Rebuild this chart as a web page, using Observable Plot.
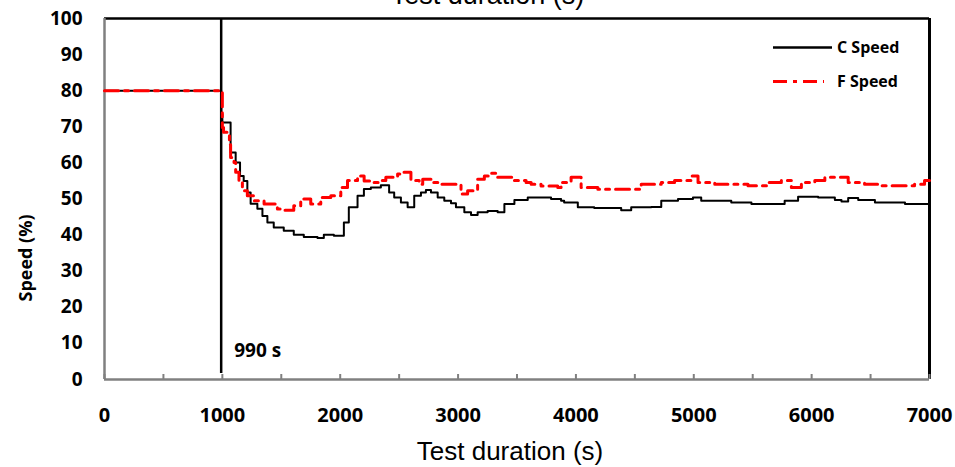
<!DOCTYPE html>
<html>
<head>
<meta charset="utf-8">
<script src="https://cdn.jsdelivr.net/npm/d3@7"></script>
<script src="https://cdn.jsdelivr.net/npm/@observablehq/plot@0.6"></script>
<style>
  body { margin: 0; background: #fff; }
  #chart svg { display: block; }
</style>
</head>
<body>
<div id="chart"></div>
<script>
// ---- data ----
const seriesNames = ["C Speed", "F Speed"];
const xLabel = "Test duration (s)";
const yLabel = "Speed (%)";
const eventTime = 990;
const eventLabel = "990 s";

const xTicks = [0, 1000, 2000, 3000, 4000, 5000, 6000, 7000];
const xMinorTicks = [0, 500, 1000, 1500, 2000, 2500, 3000, 3500, 4000, 4500, 5000, 5500, 6000, 6500, 7000];
const yTicks = [0, 10, 20, 30, 40, 50, 60, 70, 80, 90, 100];

const cTime = [0, 990, 1000, 1070, 1113, 1150, 1181, 1212, 1240, 1297, 1340, 1382, 1436, 1521, 1606, 1691, 1807, 1861, 1946, 2031, 2073, 2147, 2201, 2260, 2345, 2415, 2458, 2515, 2572, 2628, 2685, 2727, 2770, 2827, 2883, 2940, 2982, 3053, 3110, 3166, 3251, 3336, 3393, 3478, 3591, 3789, 3874, 3900, 4016, 4155, 4384, 4469, 4639, 4724, 4866, 4993, 5063, 5318, 5489, 5771, 5885, 6055, 6197, 6253, 6310, 6395, 6537, 6792, 7000];
const cSpeed = [80, 73.5, 71.2, 62.9, 60.1, 56.4, 55.0, 51.8, 48.7, 47.3, 45.3, 43.5, 42.1, 41.2, 40.1, 39.5, 39.2, 40.1, 39.8, 43.5, 47.7, 50.9, 52.8, 53.2, 53.8, 51.8, 50.4, 49.0, 47.7, 50.9, 51.8, 52.5, 51.8, 50.4, 49.5, 48.8, 47.7, 46.3, 45.6, 46.3, 46.7, 46.3, 48.6, 49.7, 50.4, 50.0, 49.5, 49.0, 47.7, 47.5, 46.9, 47.7, 47.8, 49.5, 50.0, 50.4, 49.5, 49.0, 48.6, 49.5, 50.6, 50.4, 49.7, 49.3, 50.3, 49.7, 49.0, 48.6, 48.6];

const fTime = [0, 1000, 1010, 1060, 1070, 1099, 1113, 1141, 1170, 1212, 1269, 1354, 1467, 1521, 1606, 1665, 1750, 1835, 1920, 2005, 2062, 2147, 2203, 2260, 2345, 2387, 2487, 2515, 2600, 2670, 2700, 2770, 2855, 3025, 3081, 3166, 3223, 3279, 3336, 3478, 3577, 3620, 3704, 3846, 3874, 3959, 4044, 4186, 4554, 4724, 4837, 4979, 5036, 5178, 5460, 5630, 5743, 5828, 5913, 6027, 6112, 6310, 6449, 6593, 6873, 6958, 7000];
const fSpeed = [80, 69.8, 68.5, 65.0, 61.5, 60.1, 57.4, 54.6, 52.3, 50.9, 49.5, 48.6, 47.2, 46.9, 48.1, 50.0, 48.6, 50.4, 50.9, 53.2, 55.1, 56.4, 55.0, 54.6, 55.1, 56.0, 56.9, 57.4, 55.1, 54.1, 55.5, 54.6, 54.1, 51.4, 52.3, 55.5, 56.4, 57.1, 56.0, 55.1, 54.6, 54.1, 53.6, 53.2, 54.6, 56.0, 53.2, 52.7, 54.1, 54.6, 55.1, 56.4, 54.6, 54.1, 53.7, 54.6, 55.1, 53.2, 54.6, 55.1, 56.0, 54.6, 54.1, 53.7, 54.1, 55.1, 55.1];

// ---- build tables ----
const cData = cTime.map((t, i) => ({t, v: cSpeed[i]}));
const fData = fTime.map((t, i) => ({t, v: fSpeed[i]}));

const BOLD = "'Open Sans', sans-serif";
const ARIAL = "'Liberation Sans', Arial, sans-serif";
const redDash = "14,6,4,6";

const chart = Plot.plot({
  width: 955,
  height: 467,
  marginLeft: 104,
  marginRight: 26,
  marginTop: 18,
  marginBottom: 88,
  x: {domain: [0, 7000]},
  y: {domain: [0, 100]},
  style: {fontFamily: BOLD, background: "white", color: "#000", overflow: "visible"},
  marks: [
    Plot.axisY({ticks: yTicks, tickSize: 0, tickPadding: 22, tickFormat: d => String(d), fontSize: 19, fontWeight: 700, fontFamily: BOLD, label: null, fill: "#000"}),
    Plot.axisX({ticks: xTicks, tickSize: 0, tickPadding: 28, tickFormat: d => String(d), fontSize: 20, fontWeight: 700, fontFamily: BOLD, label: null, fill: "#000"}),
    // frame
    Plot.ruleY([100], {stroke: "#000", strokeWidth: 2.5}),
    Plot.ruleX([7000], {stroke: "#000", strokeWidth: 3}),
    Plot.ruleX(xMinorTicks, {y1: 0, y2: 0, insetBottom: 5, stroke: "#808080", strokeWidth: 2}),
    Plot.ruleX([0], {stroke: "#808080", strokeWidth: 2.5}),
    Plot.ruleY([0], {stroke: "#808080", strokeWidth: 2.5}),
    // event marker
    Plot.ruleX([eventTime], {stroke: "#000", strokeWidth: 2.5, insetBottom: 6}),
    Plot.text([eventLabel], {x: eventTime, y: 0, text: d => d, textAnchor: "start", lineAnchor: "middle", dx: 13, dy: -29, fontSize: 19, fontWeight: 700, fontFamily: BOLD, fill: "#000"}),
    // series
    Plot.line(cData, {x: "t", y: "v", curve: "step-after", stroke: "#000", strokeWidth: 2}),
    Plot.line(fData, {x: "t", y: "v", curve: "step-after", stroke: "#ff0000", strokeWidth: 3, strokeDasharray: redDash}),
    // axis titles
    Plot.text([xLabel], {frameAnchor: "bottom", text: d => d, textAnchor: "middle", lineAnchor: "middle", dy: 72, dx: -7, fontSize: 26, fontFamily: ARIAL, fill: "#000"}),
    Plot.text([xLabel], {frameAnchor: "top", text: d => d, textAnchor: "middle", lineAnchor: "middle", dy: -23.6, dx: -29.5, fontSize: 27, fontFamily: ARIAL, fill: "#000"}),
    Plot.text([yLabel], {frameAnchor: "left", text: d => d, rotate: -90, textAnchor: "middle", lineAnchor: "middle", dx: -78, dy: 59, fontSize: 18, fontWeight: 700, fontFamily: BOLD, fill: "#000"})
  ]
});

// ---- legend inside the plot (top right) ----
const svg = d3.select(chart);
const lg = svg.append("g").attr("font-family", BOLD).attr("font-weight", 700).attr("font-size", 16).attr("text-anchor", "start");
const legendItems = [
  {name: seriesNames[0], stroke: "#000", width: 2.5, dash: null, x2: 832, y: 47.5},
  {name: seriesNames[1], stroke: "#ff0000", width: 3, dash: redDash, x2: 824, y: 81.5}
];
legendItems.forEach(it => {
  lg.append("line").attr("x1", 773).attr("x2", it.x2).attr("y1", it.y).attr("y2", it.y)
    .attr("stroke", it.stroke).attr("stroke-width", it.width).attr("stroke-dasharray", it.dash);
  lg.append("text").attr("x", 837).attr("y", it.y).attr("dy", "0.35em").attr("text-anchor", "start").attr("fill", "#000").text(it.name);
});

document.getElementById("chart").appendChild(chart);
</script>
</body>
</html>
